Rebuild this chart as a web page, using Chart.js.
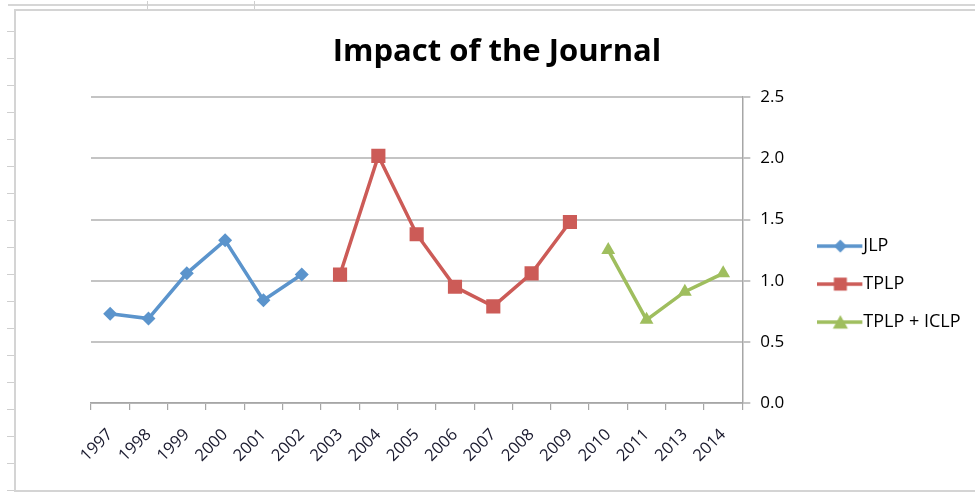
<!DOCTYPE html>
<html>
<head>
<meta charset="utf-8">
<script src="https://cdn.jsdelivr.net/npm/chart.js@4.4.1/dist/chart.umd.min.js"></script>
<style>
  html, body { margin: 0; padding: 0; background: #fff; width: 975px; height: 492px; overflow: hidden; }
  #sheetTop { position: absolute; left: 8px; top: 4px; width: 967px; height: 2px; background: #d6d6d6; }
  .colTick { position: absolute; top: 1px; width: 1px; height: 8px; background: #cfcfcf; }
  #rowTicks { position: absolute; left: 7px; top: 10px; width: 8px; height: 482px;
    background: repeating-linear-gradient(to bottom, transparent 0px, transparent 21px, #cfcfcf 21px, #cfcfcf 22px, transparent 22px, transparent 27px); }
  #frame { position: absolute; left: 14px; top: 9px; width: 975px; height: 479px; border-left: 2px solid #d4d4d4; border-top: 2px solid #d4d4d4; border-bottom: 2px solid #d4d4d4; background: #fff; }
  #wrap { position: absolute; left: 16px; top: 11px; width: 959px; height: 477px; }
  #fontwarm { position: absolute; left: -9999px; top: 0; font-family: 'Open Sans'; }
</style>
</head>
<body>
<div id="fontwarm">TPLP + ICLP <b>Impact</b></div>
<div id="sheetTop"></div>
<div class="colTick" style="left:147px"></div>
<div class="colTick" style="left:254px"></div>
<div id="rowTicks"></div>
<div id="frame"></div>
<div id="wrap"><canvas id="c" width="959" height="477"></canvas></div>
<script>
const categories = ['1997','1998','1999','2000','2001','2002','2003','2004','2005','2006','2007','2008','2009','2010','2011','2013','2014'];
const jlpValues  = [0.73, 0.69, 1.06, 1.33, 0.84, 1.05, null, null, null, null, null, null, null, null, null, null, null];
const tplpValues = [null, null, null, null, null, null, 1.05, 2.02, 1.38, 0.95, 0.79, 1.06, 1.48, null, null, null, null];
const ticlpValues = [null, null, null, null, null, null, null, null, null, null, null, null, null, 1.25, 0.68, 0.91, 1.06];
const yTicks = [0, 0.5, 1.0, 1.5, 2.0, 2.5];
const seriesNames = ['JLP', 'TPLP', 'TPLP + ICLP'];

const BLUE = '#5b94cc', RED = '#cc5b57', GREEN = '#9fbe5e';

function makeMarker(color, shape) {
  const c = document.createElement('canvas');
  c.width = 46; c.height = 16;
  const g = c.getContext('2d');
  g.strokeStyle = color; g.lineWidth = 3.5;
  g.beginPath(); g.moveTo(0, 8); g.lineTo(45, 8); g.stroke();
  g.fillStyle = color; g.beginPath();
  if (shape === 'rectRot') { g.moveTo(23, 1.5); g.lineTo(29.5, 8); g.lineTo(23, 14.5); g.lineTo(16.5, 8); }
  else if (shape === 'rect') { g.rect(16.5, 1.5, 13, 13); }
  else { g.moveTo(23, 1); g.lineTo(30.5, 14.5); g.lineTo(15.5, 14.5); }
  g.closePath(); g.fill();
  return c;
}

const ds = [
  { label: seriesNames[0], data: jlpValues, borderColor: BLUE, backgroundColor: BLUE, pointStyle: 'rectRot', pointRadius: 7, shape: 'rectRot' },
  { label: seriesNames[1], data: tplpValues, borderColor: RED, backgroundColor: RED, pointStyle: 'rect', pointRadius: 10, shape: 'rect' },
  { label: seriesNames[2], data: ticlpValues, borderColor: GREEN, backgroundColor: GREEN, pointStyle: 'triangle', pointRadius: 8, shape: 'triangle' }
].map(d => Object.assign(d, { borderWidth: 3.5, pointBorderWidth: 0, pointHoverRadius: d.pointRadius, spanGaps: false, tension: 0, fill: false, yAxisID: 'y' }));

const chart = new Chart(document.getElementById('c'), {
  type: 'line',
  data: { labels: categories, datasets: ds },
  options: {
    responsive: false,
    animation: false,
    layout: { padding: { left: 17, right: 14, top: 0, bottom: 0 } },
    plugins: {
      title: {
        display: true, text: 'Impact of the Journal', color: '#000',
        font: { family: 'Open Sans', size: 31, weight: 'bold' },
        padding: { top: 23, bottom: 26 }
      },
      legend: {
        position: 'right',
        title: { display: true, text: ' ', padding: { top: 0, bottom: 50 }, font: { size: 16 } },
        labels: {
          usePointStyle: true, pointStyleWidth: 28, padding: 20,
          color: '#000', font: { family: 'Open Sans', size: 18 },
          generateLabels(chart) {
            return chart.data.datasets.map((d, i) => ({
              text: d.label, pointStyle: makeMarker(d.borderColor, d.shape),
              fillStyle: d.borderColor, strokeStyle: d.borderColor, lineWidth: 0,
              hidden: false, datasetIndex: i, fontColor: '#000'
            }));
          }
        }
      },
      tooltip: { enabled: false }
    },
    scales: {
      x: {
        offset: true,
        afterFit(s) { s.height = 85; },
        grid: { offset: true, drawOnChartArea: false, drawTicks: true, tickLength: 7, color: '#a6a6a6', lineWidth: 1.2 },
        border: { display: true, color: '#a6a6a6', width: 1.5 },
        ticks: { minRotation: 45, maxRotation: 45, autoSkip: false, color: '#1a1a2e', font: { family: 'Open Sans', size: 16.5 }, padding: 15 }
      },
      yL: {
        position: 'left', display: true,
        afterFit(s) { s.width = 58; },
        grid: { display: false }, border: { display: false }, ticks: { display: false }
      },
      y: {
        position: 'right',
        min: 0, max: 2.5,
        afterFit(s) { s.width = 64; },
        afterBuildTicks(axis) { axis.ticks = yTicks.map(v => ({ value: v })); },
        grid: { color: '#c4c4c4', lineWidth: 2, tickLength: 8 },
        border: { display: true, color: '#a6a6a6', width: 1.5 },
        ticks: { color: '#000', font: { family: 'Open Sans', size: 17 }, padding: 10, callback: v => Number(v).toFixed(1) }
      }
    }
  }
});

if (document.fonts && document.fonts.load) {
  Promise.all([
    document.fonts.load('18px "Open Sans"'),
    document.fonts.load('bold 31px "Open Sans"')
  ]).then(() => chart.update()).catch(() => {});
}
</script>
</body>
</html>
